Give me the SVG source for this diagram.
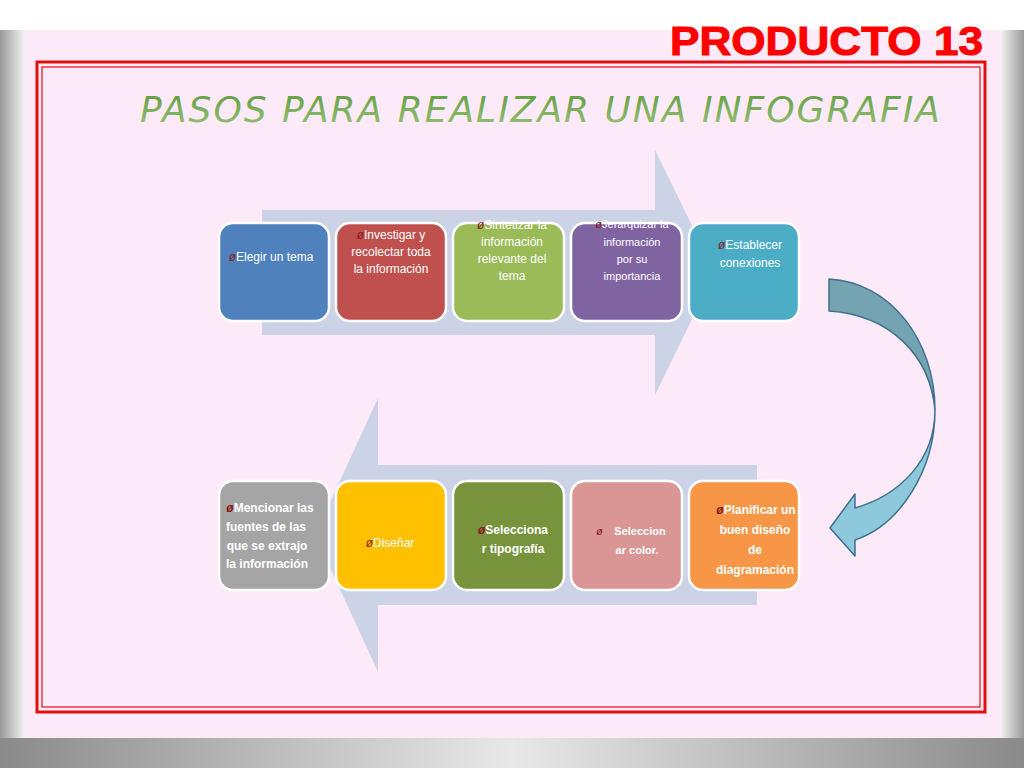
<svg xmlns="http://www.w3.org/2000/svg" width="1024" height="768" viewBox="0 0 1024 768">
<defs>
<linearGradient id="lg" x1="0" y1="0" x2="1" y2="0"><stop offset="0" stop-color="#9a9a9a"/><stop offset="1" stop-color="#f4f4f4"/></linearGradient>
<linearGradient id="rg" x1="1" y1="0" x2="0" y2="0"><stop offset="0" stop-color="#9a9a9a"/><stop offset="1" stop-color="#f4f4f4"/></linearGradient>
<linearGradient id="bg" x1="0" y1="0" x2="1" y2="0"><stop offset="0" stop-color="#8a8a8a"/><stop offset="0.5" stop-color="#e8e8e8"/><stop offset="1" stop-color="#8a8a8a"/></linearGradient>
<linearGradient id="cv" gradientUnits="userSpaceOnUse" x1="0" y1="279" x2="0" y2="556"><stop offset="0" stop-color="#74a4b2"/><stop offset="0.47" stop-color="#74a4b2"/><stop offset="0.49" stop-color="#8dc8dc"/><stop offset="1" stop-color="#8dc8dc"/></linearGradient>
<linearGradient id="tt" x1="0" y1="0" x2="0" y2="1"><stop offset="0" stop-color="#5c9a3c"/><stop offset="1" stop-color="#9bc47a"/></linearGradient>
<style>
.b{stroke:#fff;stroke-width:2.5}
.t{font-family:"Liberation Sans",Arial,sans-serif;font-size:12px;fill:#fff;text-anchor:middle}
.tb{font-family:"Liberation Sans",Arial,sans-serif;font-size:12px;fill:#fff;text-anchor:middle;font-weight:bold}
.o{fill:#8b1a1a;font-style:italic}
</style>
</defs>
<rect width="1024" height="768" fill="#fff"/>
<rect x="0" y="30" width="25" height="738" fill="url(#lg)"/>
<rect x="1000" y="30" width="24" height="738" fill="url(#rg)"/>
<rect x="0" y="738" width="1024" height="30" fill="url(#bg)"/>
<rect x="25" y="30" width="975" height="708" fill="#fdeaf8"/>
<rect x="37" y="62" width="948" height="650" fill="none" stroke="#e01010" stroke-width="3"/>
<rect x="42" y="67" width="938" height="640" fill="none" stroke="#e01010" stroke-width="1.2"/>
<text x="670" y="55" font-family="Liberation Sans,Arial,sans-serif" font-weight="bold" font-size="40" fill="#ff0000" textLength="313" lengthAdjust="spacingAndGlyphs" stroke="#ff0000" stroke-width="1">PRODUCTO 13</text>
<text x="140" y="122" font-family="DejaVu Sans,sans-serif" font-style="italic" font-size="36" fill="url(#tt)" textLength="800">PASOS  PARA  REALIZAR  UNA  INFOGRAFIA</text>
<g id="connectors">
<polygon points="262,210 655,210 655,150 715,272 655,395 655,335 262,335" fill="#cdd3e6"/>
<polygon points="757,465 378,465 378,398 315,535 378,672 378,605 757,605" fill="#cdd3e6"/>
<path d="M829,279 C890,282 935,340 935,410 C935,470 900,525 855,540 L855,556 L830,528 L855,494 L855,508 C900,495 935,460 935,410 C930,355 890,315 829,311 Z" fill="url(#cv)" stroke="#3f6f8f" stroke-width="1.5" stroke-linejoin="round"/>
</g>
<g id="n1"><rect class="b" x="219" y="223" width="110" height="98" rx="14" fill="#4f81bd"/><text class="t" x="271" y="261"><tspan class="o">ø</tspan>Elegir un tema</text></g>
<g id="n2"><rect class="b" x="336" y="223" width="110" height="98" rx="14" fill="#c0504d"/><text class="t" x="391" y="239"><tspan class="o">ø</tspan>Investigar y</text><text class="t" x="391" y="256">recolectar toda</text><text class="t" x="391" y="273">la información</text></g>
<g id="n3"><rect class="b" x="453" y="223" width="111" height="98" rx="14" fill="#9bbb59"/><text class="t" x="512" y="229"><tspan class="o">ø</tspan>Sintetizar la</text><text class="t" x="512" y="246">información</text><text class="t" x="512" y="263">relevante del</text><text class="t" x="512" y="280">tema</text></g>
<g id="n4"><rect class="b" x="571" y="223" width="111" height="98" rx="14" fill="#8064a2"/><text class="t" style="font-size:11px" x="632" y="228"><tspan class="o">ø</tspan>Jerarquizar la</text><text class="t" style="font-size:11px" x="632" y="246">información</text><text class="t" style="font-size:11px" x="632" y="263">por su</text><text class="t" style="font-size:11px" x="632" y="280">importancia</text></g>
<g id="n5"><rect class="b" x="689" y="223" width="110" height="98" rx="14" fill="#4bacc6"/><text class="t" x="750" y="249"><tspan class="o">ø</tspan>Establecer</text><text class="t" x="750" y="267">conexiones</text></g>
<g id="n6"><rect class="b" x="219" y="481" width="110" height="109" rx="14" fill="#a5a5a5"/><text class="tb" x="270" y="512"><tspan class="o">ø</tspan>Mencionar las</text><text class="tb" x="266" y="531">fuentes de las</text><text class="tb" x="267" y="550">que se extrajo</text><text class="tb" x="267" y="568">la información</text></g>
<g id="n7"><rect class="b" x="336" y="481" width="110" height="109" rx="14" fill="#ffc000"/><text class="t" x="390" y="547"><tspan class="o">ø</tspan>Diseñar</text></g>
<g id="n8"><rect class="b" x="453" y="481" width="111" height="109" rx="14" fill="#77933c"/><text class="tb" x="513" y="534"><tspan class="o">ø</tspan>Selecciona</text><text class="tb" x="513" y="553">r tipografía</text></g>
<g id="n9"><rect class="b" x="571" y="481" width="111" height="109" rx="14" fill="#d99694"/><text class="o" x="596" y="535" font-family="Liberation Sans,sans-serif" font-size="11">ø</text><text class="tb" style="font-size:11px" x="640" y="535">Seleccion</text><text class="tb" style="font-size:11px" x="637" y="554">ar color.</text></g>
<g id="n10"><rect class="b" x="689" y="481" width="110" height="109" rx="14" fill="#f79646"/><text class="tb" x="756" y="514"><tspan class="o">ø</tspan>Planificar un</text><text class="tb" x="755" y="534">buen diseño</text><text class="tb" x="755" y="554">de</text><text class="tb" x="755" y="574">diagramación</text></g>
</svg>
